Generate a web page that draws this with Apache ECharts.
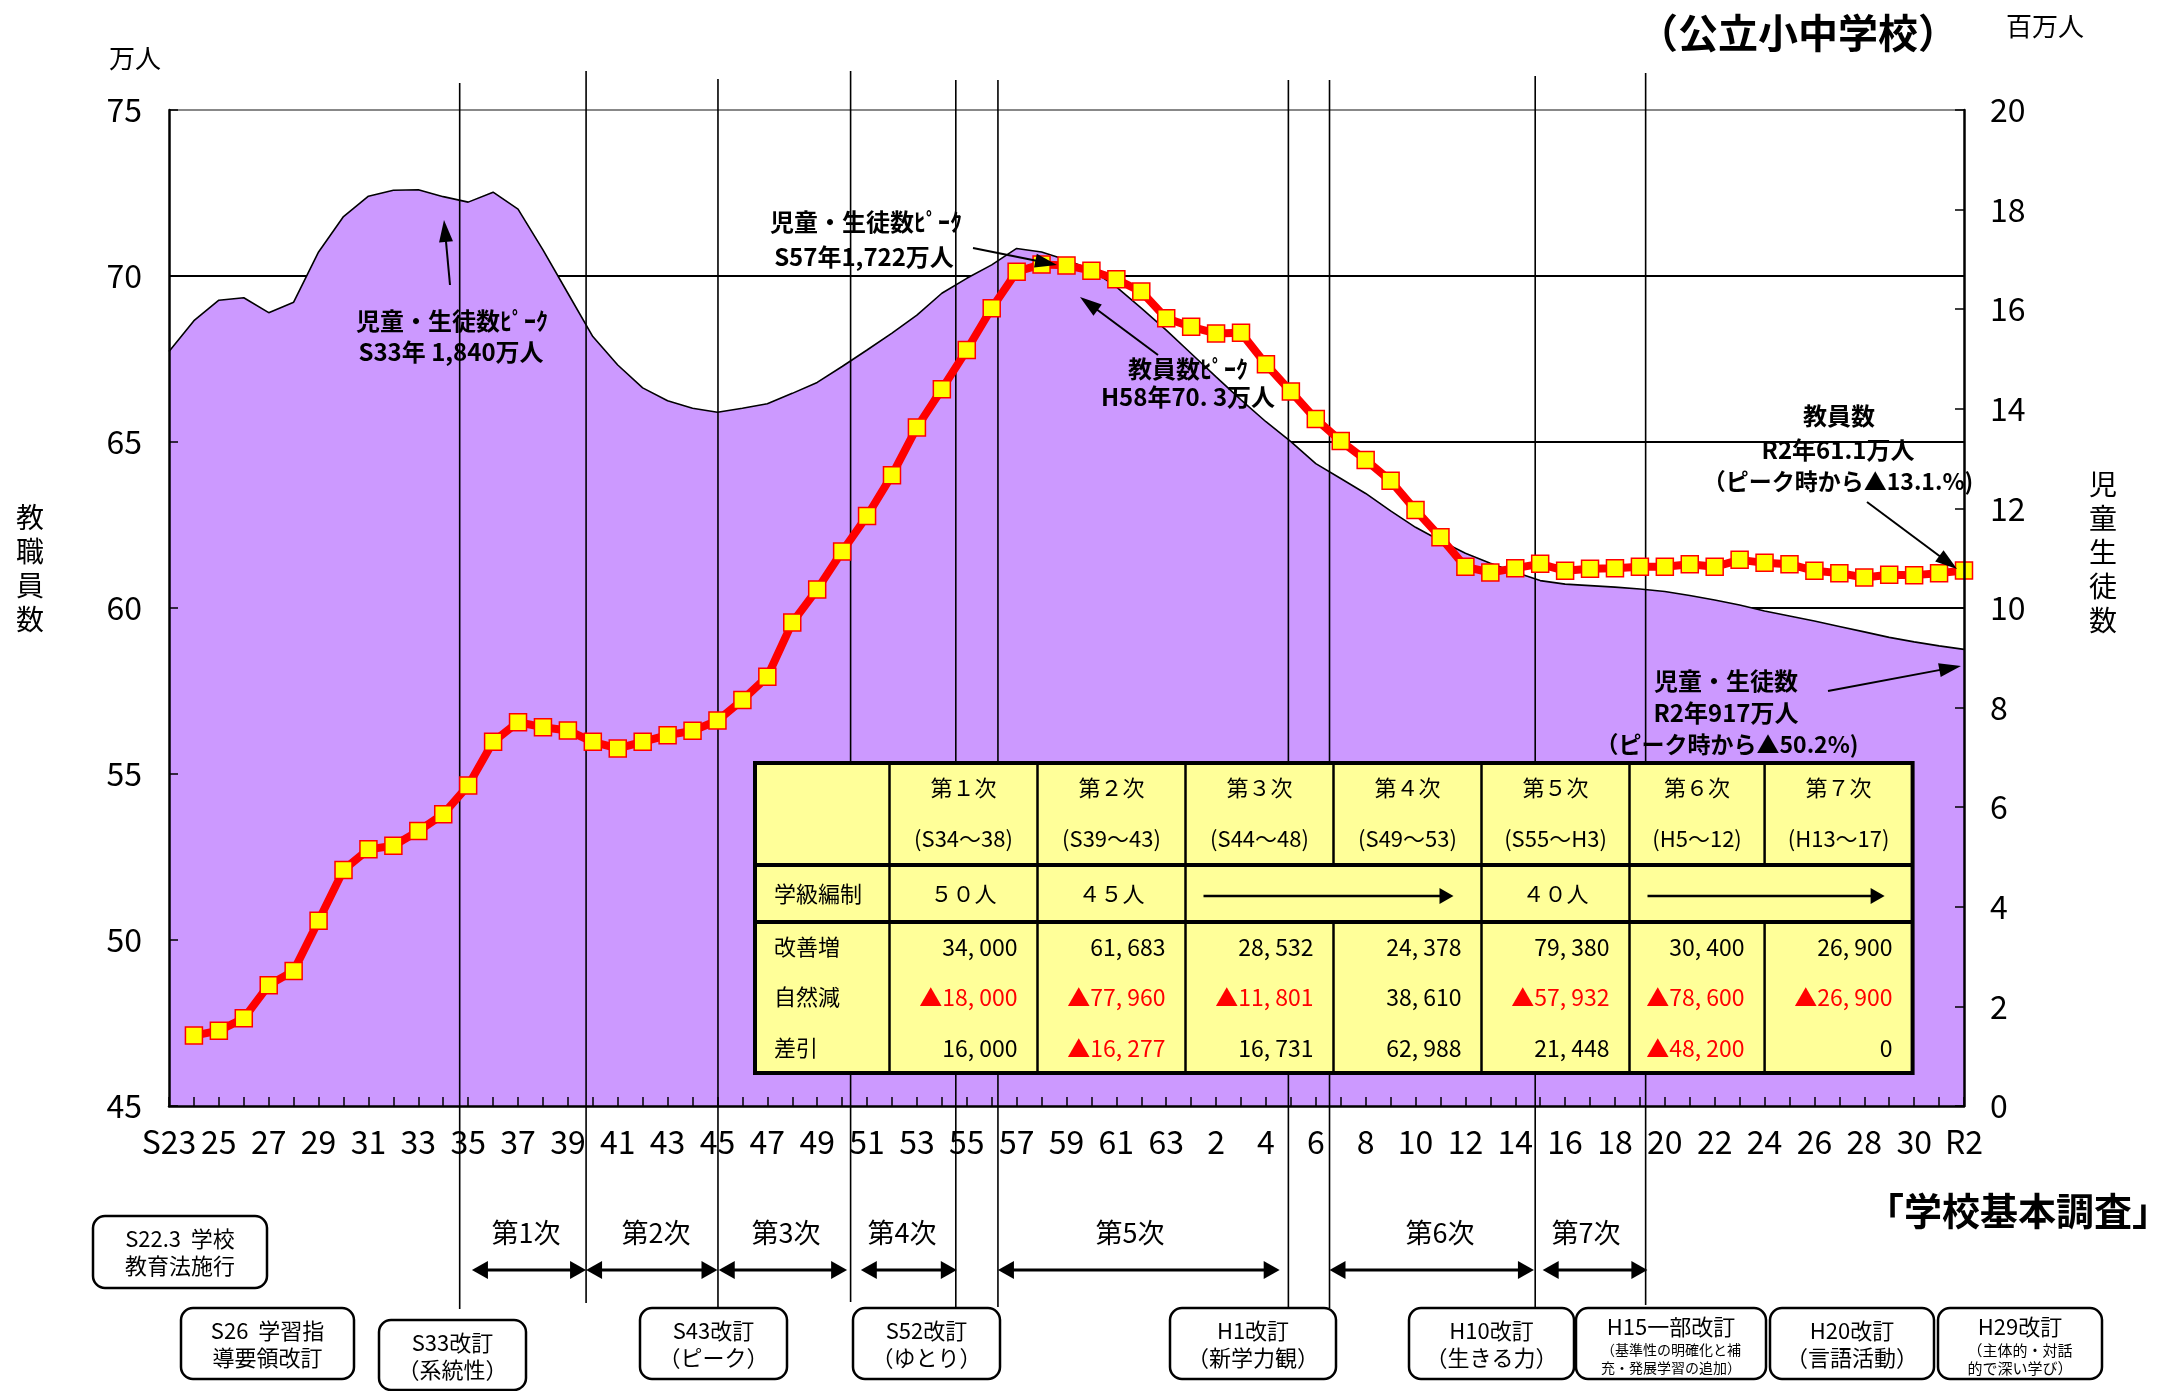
<!DOCTYPE html>
<html><head><meta charset="utf-8">
<script src="https://cdn.jsdelivr.net/npm/echarts@6/dist/echarts.min.js"></script>
<style>html,body{margin:0;padding:0;background:#fff}#c{width:2167px;height:1391px}</style>
</head><body><div id="c"></div>
<script>
// ---------------- DATA ----------------
const years = ['1948','1949','1950','1951','1952','1953','1954','1955','1956','1957','1958','1959','1960','1961','1962','1963','1964','1965','1966','1967','1968','1969','1970','1971','1972','1973','1974','1975','1976','1977','1978','1979','1980','1981','1982','1983','1984','1985','1986','1987','1988','1989','1990','1991','1992','1993','1994','1995','1996','1997','1998','1999','2000','2001','2002','2003','2004','2005','2006','2007','2008','2009','2010','2011','2012','2013','2014','2015','2016','2017','2018','2019','2020'];
const tickLabels = ['S23','24','25','26','27','28','29','30','31','32','33','34','35','36','37','38','39','40','41','42','43','44','45','46','47','48','49','50','51','52','53','54','55','56','57','58','59','60','61','62','63','H1','2','3','4','5','6','7','8','9','10','11','12','13','14','15','16','17','18','19','20','21','22','23','24','25','26','27','28','29','30','R1','R2'];
// 児童・生徒数 (百万人), S23..R2
const students = [15.15,15.77,16.18,16.23,15.93,16.14,17.15,17.86,18.27,18.39,18.40,18.26,18.15,18.35,18.01,17.19,16.32,15.45,14.88,14.42,14.16,14.01,13.93,14.01,14.10,14.31,14.53,14.85,15.18,15.52,15.88,16.32,16.62,16.89,17.22,17.15,16.99,16.79,16.45,16.02,15.58,15.11,14.64,14.18,13.74,13.34,12.90,12.60,12.30,11.95,11.62,11.35,11.10,10.90,10.72,10.55,10.48,10.45,10.42,10.38,10.33,10.25,10.16,10.06,9.94,9.84,9.74,9.63,9.52,9.41,9.32,9.24,9.17];
// 教員数 (万人), S23..R2
const teachers = [null,47.12,47.27,47.64,48.64,49.07,50.58,52.11,52.73,52.84,53.28,53.79,54.65,55.97,56.56,56.41,56.31,55.97,55.77,55.97,56.17,56.30,56.61,57.23,57.93,59.56,60.56,61.70,62.77,64.00,65.44,66.59,67.77,69.03,70.13,70.35,70.32,70.16,69.90,69.53,68.73,68.47,68.27,68.29,67.34,66.52,65.69,65.03,64.46,63.83,62.95,62.13,61.24,61.07,61.20,61.33,61.12,61.18,61.20,61.24,61.24,61.32,61.24,61.45,61.36,61.32,61.12,61.05,60.92,61.00,60.99,61.05,61.13];

// 改善計画 table
const planNames = ['第１次','第２次','第３次','第４次','第５次','第６次','第７次'];
const planPeriods = ['(S34～38)','(S39～43)','(S44～48)','(S49～53)','(S55～H3)','(H5～12)','(H13～17)'];
const classSize = ['５０人','４５人','→','','４０人','→',''];
const improvement = ['34, 000','61, 683','28, 532','24, 378','79, 380','30, 400','26, 900'];
const naturalDecrease = ['▲18, 000','▲77, 960','▲11, 801','38, 610','▲57, 932','▲78, 600','▲26, 900'];
const difference = ['16, 000','▲16, 277','16, 731','62, 988','21, 448','▲48, 200','0'];

// plan / curriculum boundary years (fractional positions on the year axis)
const boundaryYears = [1959.66,1964.73,1970.02,1975.34,1979.56,1981.25,1992.9,1994.55,2002.8,2007.23];
const planSpans = [[1960.15,1964.73],[1964.73,1970.0],[1970.05,1975.2],[1975.75,1979.6],[1981.25,1992.55],[1994.55,2002.75],[2003.1,2007.3]];
const planLabelYears = [1962.32,1967.53,1972.75,1977.4,1986.55,1998.98,2004.84];
const planLabels = ['第1次','第2次','第3次','第4次','第5次','第6次','第7次'];

// curriculum boxes text
const boxTexts = [
  ['S22.3  学校','教育法施行'],
  ['S26  学習指','導要領改訂'],
  ['S33改訂','（系統性）'],
  ['S43改訂','（ピーク）'],
  ['S52改訂','（ゆとり）'],
  ['H1改訂','（新学力観）'],
  ['H10改訂','（生きる力）'],
  ['H15一部改訂','（基準性の明確化と補','充・発展学習の追加）'],
  ['H20改訂','（言語活動）'],
  ['H29改訂','（主体的・対話','的で深い学び）']
];

// ---------------- STYLE / LAYOUT ----------------
const NARROW = '"Liberation Sans Narrow","Arial Narrow","Noto Sans CJK JP",sans-serif';
const JP = '"Noto Sans CJK JP",sans-serif';

const chart = echarts.init(document.getElementById('c'));
chart.setOption({
  animation: false,
  backgroundColor: '#fff',
  grid: {left: 169, right: 203, top: 110, bottom: 285},
  xAxis: {
    type: 'category', boundaryGap: false, data: years, z: 5,
    axisLine: {lineStyle: {color: '#000', width: 2.5}},
    axisTick: {inside: true, length: 9, interval: 0, lineStyle: {color: '#000', width: 1.5}},
    axisLabel: {interval: 1, margin: 20, fontSize: 32, color: '#000', fontFamily: NARROW,
      formatter: (v, i) => tickLabels[i]},
    splitLine: {show: false}
  },
  yAxis: [
    {type: 'value', min: 45, max: 75, interval: 5, position: 'left', z: 5,
     axisLine: {show: true, lineStyle: {color: '#000', width: 2.5}},
     axisTick: {show: true, inside: true, length: 9, lineStyle: {color: '#000', width: 1.5}},
     axisLabel: {fontSize: 32, color: '#000', fontFamily: NARROW, margin: 27},
     splitLine: {show: false}},
    {type: 'value', min: 0, max: 20, interval: 2, position: 'right', z: 5,
     axisLine: {show: true, lineStyle: {color: '#000', width: 2.5}},
     axisTick: {show: true, inside: true, length: 9, lineStyle: {color: '#000', width: 1.5}},
     axisLabel: {fontSize: 32, color: '#000', fontFamily: NARROW, margin: 26},
     splitLine: {show: false}},
    {type: 'value', min: 45, max: 75, interval: 5, position: 'left', z: 0,
     axisLine: {show: false}, axisTick: {show: false}, axisLabel: {show: false},
     splitLine: {show: true, lineStyle: {color: ['#000','#000','#000','#000','#000','#000','#888'], width: 2}}}
  ],
  series: [
    {name: '児童生徒数', type: 'line', yAxisIndex: 1, data: students, symbol: 'none', z: 2,
     lineStyle: {color: '#000', width: 1.6}, areaStyle: {color: '#CC99FF', opacity: 1}},
    {name: '教員数', type: 'line', yAxisIndex: 0, data: teachers, symbol: 'rect', symbolSize: 17, z: 4,
     showAllSymbol: true,
     lineStyle: {color: '#FF0000', width: 8},
     itemStyle: {color: '#FFFF00', borderColor: '#FF0000', borderWidth: 1.5}}
  ]
});

// ---------------- ANNOTATIONS ----------------
const p0 = chart.convertToPixel({xAxisIndex: 0}, years[0]);
const p1 = chart.convertToPixel({xAxisIndex: 0}, years[years.length - 1]);
const X = yr => p0 + (yr - 1948) * (p1 - p0) / 72;

const els = [];
function line(x1, y1, x2, y2, w, z, color) {
  els.push({type: 'line', z: z, silent: true, shape: {x1, y1, x2, y2}, style: {stroke: color || '#000', lineWidth: w}});
}
function head(xf, yf, xt, yt, len, wid, z) {
  const dx = xt - xf, dy = yt - yf, L = Math.hypot(dx, dy), ux = dx / L, uy = dy / L;
  const bx = xt - ux * len, by = yt - uy * len;
  els.push({type: 'polygon', z: z, silent: true,
    shape: {points: [[xt, yt], [bx - uy * wid / 2, by + ux * wid / 2], [bx + uy * wid / 2, by - ux * wid / 2]]},
    style: {fill: '#000'}});
  return [bx + ux * 1, by + uy * 1];
}
function arrow(x1, y1, x2, y2, lw, len, wid, z) {
  const b = head(x1, y1, x2, y2, len, wid, z);
  line(x1, y1, b[0], b[1], lw, z);
}
function dblArrow(x1, y, x2, lw, len, wid, z) {
  head(x2, y, x1, y, len, wid, z);
  head(x1, y, x2, y, len, wid, z);
  line(x1 + len - 1, y, x2 - len + 1, y, lw, z);
}
function text(str, x, y, size, opts) {
  opts = opts || {};
  els.push({type: 'text', z: opts.z || 12, silent: true, x: x, y: y,
    style: {text: str, fill: opts.color || '#000', fontSize: size, fontFamily: opts.family || JP,
      fontWeight: opts.bold ? 'bold' : 'normal', align: opts.align || 'center', verticalAlign: 'middle',
      lineHeight: opts.lineHeight}});
}

// vertical boundary lines
const lineTops = [83, 71, 79, 71, 80, 80, 80, 80, 76, 73];
const lineBottoms = [1309, 1303, 1308, 1302, 1308, 1307, 1308, 1308, 1308, 1305];
boundaryYears.forEach((yr, i) => line(X(yr), lineTops[i], X(yr), lineBottoms[i], 1.6, 3));

// plan span arrows + labels
planSpans.forEach(s => dblArrow(X(s[0]), 1270, X(s[1]), 3, 16, 18, 12));
planLabelYears.forEach((yr, i) => text(planLabels[i], X(yr), 1233, 27, {family: NARROW}));

// curriculum boxes
const boxRects = [
  [93, 1216, 174, 72], [181, 1308, 173, 71], [379, 1320, 147, 70], [640, 1308, 147, 71], [853, 1308, 147, 71],
  [1170, 1308, 166, 71], [1409, 1308, 165, 71], [1576, 1308, 190, 71], [1770, 1308, 164, 71], [1938, 1308, 164, 71]
];
boxRects.forEach((r, i) => {
  els.push({type: 'rect', z: 12, silent: true, shape: {x: r[0], y: r[1], width: r[2], height: r[3], r: 12},
    style: {fill: '#fff', stroke: '#000', lineWidth: 2.5}});
  const cx = r[0] + r[2] / 2;
  const t = boxTexts[i];
  if (t.length === 2) {
    text(t[0], cx, r[1] + 23, 22, {family: NARROW, z: 13});
    text(t[1], cx, r[1] + 50, 22, {family: NARROW, z: 13});
  } else {
    const small = i === 7 ? 14 : 15;
    text(t[0], cx, r[1] + 19, 22, {family: NARROW, z: 13});
    text(t[1], cx, r[1] + 42, small, {family: NARROW, z: 13});
    text(t[2], cx, r[1] + 60, small, {family: NARROW, z: 13});
  }
});

// table
const colX = [755, 889.5, 1037.5, 1185.5, 1333.5, 1481.5, 1629.5, 1764.6, 1912.6];
const rowY = [763, 865, 922, 1073];
els.push({type: 'rect', z: 10, silent: true, shape: {x: colX[0], y: rowY[0], width: colX[8] - colX[0], height: rowY[3] - rowY[0]},
  style: {fill: '#FFFF99', stroke: '#000', lineWidth: 4}});
line(colX[0], rowY[1], colX[8], rowY[1], 4, 11);
line(colX[0], rowY[2], colX[8], rowY[2], 4, 11);
for (let i = 1; i < 8; i++) {
  line(colX[i], rowY[0], colX[i], rowY[1], 2.5, 11);
  if (i !== 4 && i !== 7) line(colX[i], rowY[1], colX[i], rowY[2], 2.5, 11);
  line(colX[i], rowY[2], colX[i], rowY[3], 2.5, 11);
}
const rowLabels = ['学級編制', '改善増', '自然減', '差引'];
const rowLabelY = [894, 947, 997, 1048];
rowLabels.forEach((s, i) => text(s, 774, rowLabelY[i], 22, {align: 'left'}));
for (let c = 0; c < 7; c++) {
  const cx = (colX[c + 1] + colX[c + 2]) / 2;
  const rx = colX[c + 2] - 20;
  text(planNames[c], cx, 788, 22);
  text(planPeriods[c], cx, 839, 22, {family: NARROW});
  if (classSize[c] && classSize[c] !== '→') text(classSize[c], cx, 894, 22);
  [improvement, naturalDecrease, difference].forEach((arr, k) => {
    const v = arr[c];
    text(v, rx, rowLabelY[k + 1], 23, {family: NARROW, align: 'right', color: v.indexOf('▲') === 0 ? '#FF0000' : '#000'});
  });
}
// merged-cell arrows in 学級編制 row
[[2, 3], [5, 6]].forEach(p => {
  const xa = colX[p[0] + 1] + 18, xb = colX[p[1] + 2] - 28;
  arrow(xa, 896, xb, 896, 2.5, 14, 16, 12);
});

// peak annotations
text('児童・生徒数ﾋﾟｰｸ', 452, 321, 24, {bold: true});
text('S33年 1,840万人', 451, 352, 24, {bold: true});
arrow(450, 285, 444, 220, 2, 22, 14, 12);

text('児童・生徒数ﾋﾟｰｸ', 866, 222, 24, {bold: true});
text('S57年1,722万人', 864, 257, 24, {bold: true});
arrow(973, 248, 1057, 265, 2, 22, 14, 12);

text('教員数ﾋﾟｰｸ', 1188, 369, 24, {bold: true});
text('H58年70. 3万人', 1188, 397, 24, {bold: true});
arrow(1158, 355, 1080, 297, 2, 22, 14, 12);

text('教員数', 1839, 416, 24, {bold: true});
text('R2年61.1万人', 1838, 450, 24, {bold: true});
text('（ピーク時から▲13.1.%)', 1838, 481, 23, {bold: true});
arrow(1867, 502, 1957, 569, 2, 22, 14, 12);

text('児童・生徒数', 1726, 681, 24, {bold: true});
text('R2年917万人', 1726, 713, 24, {bold: true});
text('（ピーク時から▲50.2%)', 1727, 744, 23, {bold: true});
arrow(1828, 691, 1961, 666, 2, 22, 14, 12);

// titles / axis names
text('（公立小中学校）', 1798, 33, 40, {bold: true});
text('百万人', 2045, 26, 26);
text('万人', 135, 58, 26);
text('「学校基本調査」', 2018, 1211, 38, {bold: true});
text('教\n職\n員\n数', 30, 568, 28, {lineHeight: 34});
text('児\n童\n生\n徒\n数', 2103, 552, 28, {lineHeight: 34});

chart.setOption({graphic: {elements: els}});
</script>
</body></html>
